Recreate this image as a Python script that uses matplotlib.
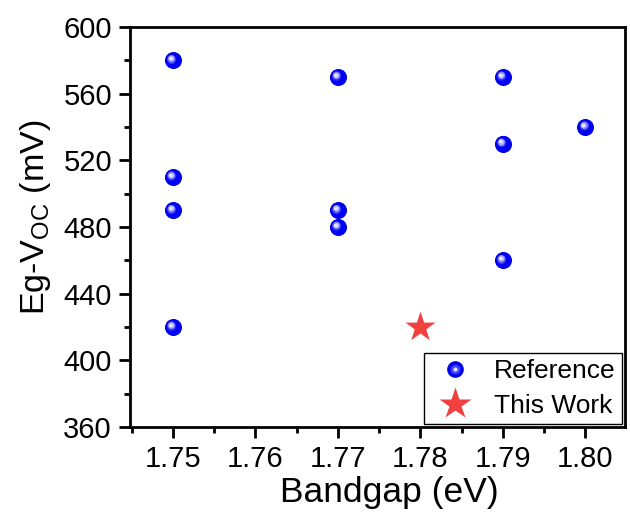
import matplotlib
matplotlib.use("Agg")
import matplotlib.pyplot as plt
import numpy as np
from matplotlib.ticker import MultipleLocator
from matplotlib.lines import Line2D
from matplotlib.legend_handler import HandlerTuple

plt.rcParams['font.family'] = ['Liberation Sans', 'DejaVu Sans']
plt.rcParams['mathtext.fontset'] = 'custom'
plt.rcParams['mathtext.rm'] = 'Liberation Sans'
plt.rcParams['mathtext.it'] = 'Liberation Sans:italic'

# literature values
ref_bandgap = [1.75, 1.75, 1.75, 1.75, 1.77, 1.77, 1.77, 1.79, 1.79, 1.79, 1.80]
ref_loss = [580, 510, 490, 420, 570, 490, 480, 570, 530, 460, 540]
# this work
this_bandgap = [1.78]
this_loss = [420]

fig = plt.figure(figsize=(6.3, 5.16), dpi=100)
ax = fig.add_axes([130/630, 1 - 427/516, 495/630, 400/516])

xlim = (1.7448, 1.8048)
ylim = (360, 600)
ax.set_xlim(*xlim)
ax.set_ylim(*ylim)

# sphere-like markers: shaded rings shrinking towards an upper-left highlight
px_x = (xlim[1] - xlim[0]) / 495.0
px_y = (ylim[1] - ylim[0]) / 400.0
bx = np.array(ref_bandgap)
by = np.array(ref_loss)
ax.scatter(bx, by, s=150, color='#0000d8', linewidths=0, zorder=3)
blue = np.array([0.0, 0.0, 0.96])
white = np.array([0.95, 0.95, 1.0])
n = 12
for k in range(n):
    t = (k + 1) / n
    s = 130 * (1 - t) ** 1.3 + 4
    c = blue if t < 0.55 else blue + (white - blue) * ((t - 0.55) / 0.45) ** 0.8
    ax.scatter(bx - 2.5 * t * px_x, by + 2.5 * t * px_y, s=s, color=c,
               linewidths=0, zorder=3 + t)

ax.scatter(this_bandgap, this_loss, marker='*', s=520, color='#f04040',
           linewidths=0, zorder=3)

ax.xaxis.set_minor_locator(MultipleLocator(0.005))
ax.yaxis.set_major_locator(MultipleLocator(40))
ax.yaxis.set_minor_locator(MultipleLocator(20))
ax.set_xticks([1.75, 1.76, 1.77, 1.78, 1.79, 1.80])
ax.set_xticklabels(['1.75', '1.76', '1.77', '1.78', '1.79', '1.80'])

for sp in ax.spines.values():
    sp.set_linewidth(2)
ax.tick_params(which='major', direction='out', length=8, width=2, labelsize=21,
               top=False, right=False, pad=5)
ax.tick_params(which='minor', direction='out', length=4, width=2,
               top=False, right=False)

ax.set_xlabel('Bandgap (eV)', fontsize=25.5)
ax.set_ylabel(r'Eg-V$_{\mathrm{OC}}$ (mV)', fontsize=24.5)
ax.xaxis.set_label_coords(0.525, -0.122)
ax.yaxis.set_label_coords(-0.156, 0.525)

h_ref = (Line2D([], [], ls='none', marker='o', ms=12, mfc='#0000e8', mec='none'),
         Line2D([], [], ls='none', marker='o', ms=7, mfc='#4040ff', mec='none'),
         Line2D([], [], ls='none', marker='o', ms=3, mfc='#e0e0ff', mec='none'))
h_this = Line2D([], [], ls='none', marker='*', ms=24, mfc='#f04040', mec='none')
leg = ax.legend([h_ref, h_this], ['Reference', 'This Work'], loc='lower right',
                fontsize=19, frameon=True, fancybox=False, framealpha=1,
                borderaxespad=0.1, handletextpad=0.55, borderpad=0.25,
                labelspacing=0.4, handlelength=1.85,
                handler_map={tuple: HandlerTuple(ndivide=1)})
leg.get_frame().set_edgecolor('black')
leg.get_frame().set_linewidth(1.0)

fig.savefig('out.png', dpi=100)
